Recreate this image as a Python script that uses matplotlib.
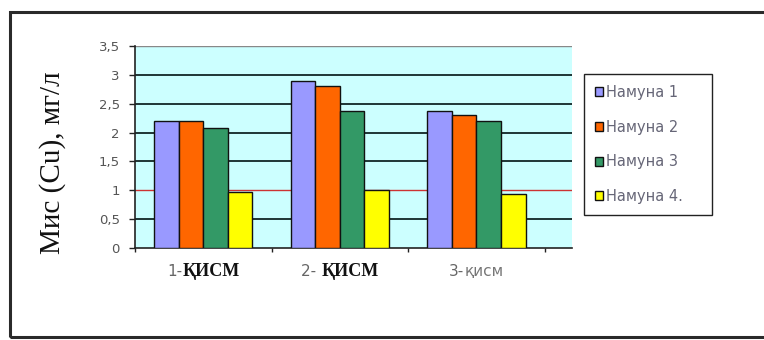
import matplotlib
matplotlib.use("Agg")
import numpy as np
import matplotlib.pyplot as plt
from matplotlib.patches import Rectangle
from matplotlib.offsetbox import TextArea, HPacker, AnnotationBbox

# copper content per sample, mg/l
parts = ["1-", "2- ", "3-"]
part_words = ["ҚИСМ", "ҚИСМ", "қисм"]
series = ["Намуна 1", "Намуна 2", "Намуна 3", "Намуна 4."]
values = [
    [2.2, 2.9, 2.38],
    [2.2, 2.8, 2.3],
    [2.08, 2.38, 2.2],
    [0.97, 1.0, 0.93],
]
limit = 1.0
colors = ["#9999FF", "#FF6600", "#339966", "#FFFF00"]
yticks = np.arange(0, 3.51, 0.5)

W, H = 764, 340
fig = plt.figure(figsize=(W / 100, H / 100), dpi=100)
ax = fig.add_axes([135 / W, 1 - 248 / H, 437 / W, 202 / H])
ax.set_facecolor("#CCFFFF")

# grid lines drawn by hand so the 1.0 level can be red
for y in yticks[1:]:
    if y == limit:
        continue
    c = "#888888" if y == yticks[-1] else "#1f3535"
    ax.axhline(y, color=c, lw=1.4 if y < yticks[-1] else 1.0, zorder=1)
ax.axhline(limit, color="#cc3333", lw=1.0, zorder=1)

w = 0.18
x = np.arange(len(parts)) + 0.5
handles = []
for k, (vals, col) in enumerate(zip(values, colors)):
    b = ax.bar(x + (k - 1.5) * w, vals, w, color=col, edgecolor="#111111",
               lw=1.0, zorder=3, label=series[k])
    handles.append(b)

ax.set_xlim(0, 3.2)
ax.set_ylim(0, 3.5)
ax.set_yticks(yticks)
ax.set_yticklabels([f"{v:g}".replace(".", ",") for v in yticks])
ax.set_xticks(np.arange(0, 4))
ax.set_xticklabels([])
ax.tick_params(axis="y", length=4, width=1, color="#222222", pad=7,
               labelsize=9.5, labelcolor="#555555")
ax.tick_params(axis="x", length=3, width=1, color="#222222")
for t in ax.get_yticklabels():
    t.set_family("DejaVu Sans")
for s in ["top", "right"]:
    ax.spines[s].set_visible(False)
for s in ["left", "bottom"]:
    ax.spines[s].set_color("#222222")
    ax.spines[s].set_linewidth(1.2)

# category labels: sans prefix + serif word
for i in range(len(parts)):
    serif = i < 2
    pre = TextArea(parts[i], textprops=dict(family="DejaVu Sans", size=11,
                                            color="#666666"))
    word = TextArea(part_words[i], textprops=dict(
        family="Liberation Serif" if serif else "DejaVu Sans",
        size=13 if serif else 11,
        color="#111111" if serif else "#777777",
        weight="bold" if serif else "normal"))
    box = HPacker(children=[pre, word], pad=0, sep=0, align="baseline")
    ab = AnnotationBbox(box, (x[i], 0), xybox=(0, -24), xycoords="data",
                        boxcoords="offset pixels", frameon=False,
                        box_alignment=(0.5, 0.5), annotation_clip=False)
    ax.add_artist(ab)

fig.text(53 / W, 1 - 163 / H, "Мис (Cu), мг/л", rotation=90,
         family="Liberation Serif", size=21, ha="center", va="center",
         color="#111111")

leg = fig.legend(handles=handles, labels=series,
                 bbox_to_anchor=(584 / W, 1 - 215 / H, 128 / W, 141 / H),
                 loc="upper left", mode="expand", ncol=1,
                 prop=dict(family="DejaVu Sans", size=10.5),
                 labelcolor="#666677", frameon=True, fancybox=False,
                 edgecolor="#222222", framealpha=1, borderpad=0.75,
                 labelspacing=1.35, handlelength=0.55, handleheight=0.55,
                 handletextpad=0.2, borderaxespad=0)
leg.get_frame().set_linewidth(1.0)

# outer frame around the whole chart
fig.add_artist(Rectangle((10 / W, 1 - 337 / H), 1.0, (337 - 12) / H,
                         transform=fig.transFigure, fill=False,
                         edgecolor="#2a2a2a", lw=2.2, clip_on=False))

fig.savefig("out.png", dpi=100)
